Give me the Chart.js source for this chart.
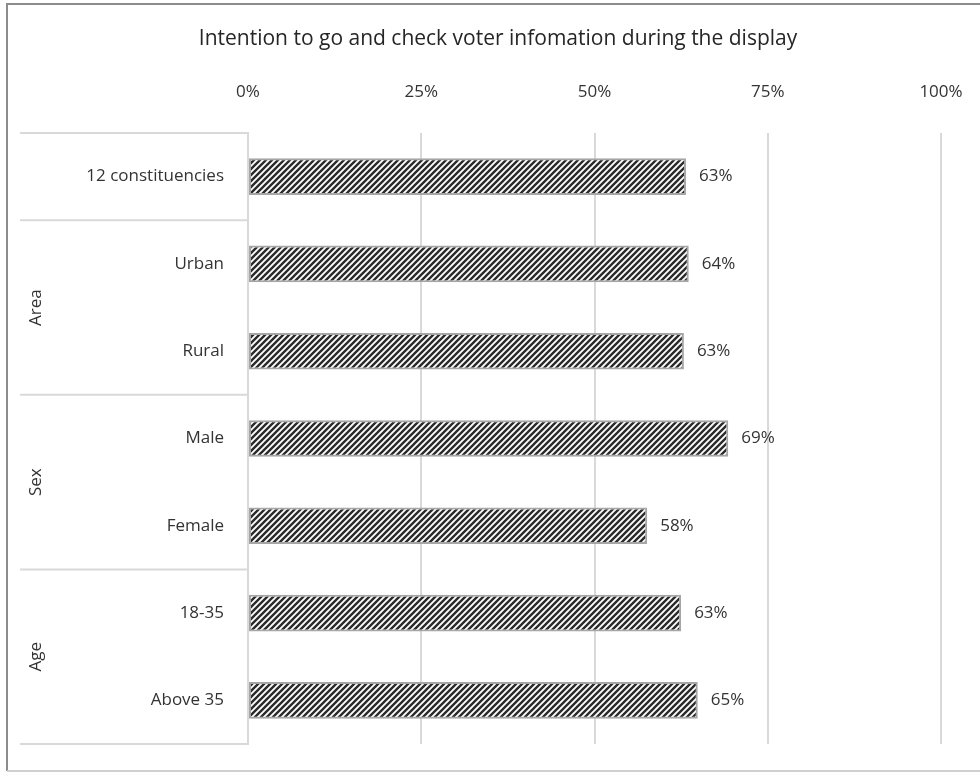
<!DOCTYPE html>
<html>
<head>
<meta charset="utf-8">
<script src="https://cdn.jsdelivr.net/npm/chart.js@4"></script>
<style>
  html, body { margin: 0; padding: 0; background: #fff; }
  #wrap { position: relative; width: 980px; height: 772px; }
</style>
</head>
<body>
<div id="wrap"><canvas id="MiGrafica" width="980" height="772"></canvas></div>
<script>
// data
const categorias = ['12 constituencies', 'Urban', 'Rural', 'Male', 'Female', '18-35', 'Above 35'];
const valores = [63.2, 63.6, 62.9, 69.3, 57.6, 62.5, 64.9];
const grupos = ['', 'Area', 'Area', 'Sex', 'Sex', 'Age', 'Age'];
const ticksX = [0, 25, 50, 75, 100];
const titulo = 'Intention to go and check voter infomation during the display';

const fuente = '"Open Sans", "Noto Sans", sans-serif';
const gris = '#d9d9d9';
const texto = '#333333';

// hatched fill like the original
const rayado = (() => {
    const c = document.createElement('canvas');
    c.width = 6; c.height = 6;
    const g = c.getContext('2d');
    g.fillStyle = '#ffffff';
    g.fillRect(0, 0, 6, 6);
    g.strokeStyle = '#2b2b2b';
    g.lineWidth = 2.4;
    g.beginPath();
    g.moveTo(-1, 7); g.lineTo(7, -1);
    g.moveTo(-4, 4); g.lineTo(4, -4);
    g.moveTo(2, 10); g.lineTo(10, 2);
    g.stroke();
    return g.createPattern(c, 'repeat');
})();

// frame, title, group boxes and value labels
const extras = {
    id: 'extras',
    beforeDraw(chart) {
        const ctx = chart.ctx;
        ctx.save();
        ctx.strokeStyle = '#8c8c8c';
        ctx.lineWidth = 2;
        ctx.beginPath();
        ctx.moveTo(980, 4); ctx.lineTo(7, 4); ctx.lineTo(7, 771);
        ctx.stroke();
        ctx.strokeStyle = '#d0d0d0';
        ctx.beginPath();
        ctx.moveTo(7, 771); ctx.lineTo(980, 771);
        ctx.stroke();
        ctx.restore();
    },
    afterDraw(chart) {
        const ctx = chart.ctx;
        const y = chart.scales.y;
        const area = chart.chartArea;
        ctx.save();
        ctx.fillStyle = '#262626';
        ctx.font = '21px ' + fuente;
        ctx.textAlign = 'center';
        ctx.textBaseline = 'middle';
        ctx.fillText(titulo, 498, 39);

        // separators between groups
        const bordes = [area.top];
        for (let i = 1; i < grupos.length; i++) {
            if (grupos[i] !== grupos[i - 1]) {
                bordes.push((y.getPixelForValue(i - 1) + y.getPixelForValue(i)) / 2);
            }
        }
        bordes.push(area.bottom);
        ctx.strokeStyle = gris;
        ctx.lineWidth = 2;
        bordes.forEach(b => {
            ctx.beginPath();
            ctx.moveTo(20, b); ctx.lineTo(area.left, b);
            ctx.stroke();
        });

        // rotated group names
        ctx.font = '17px ' + fuente;
        ctx.fillStyle = texto;
        const vistos = [...new Set(grupos.filter(g => g))];
        vistos.forEach(nombre => {
            const idx = grupos.map((g, i) => g === nombre ? i : -1).filter(i => i >= 0);
            const mid = (y.getPixelForValue(idx[0]) + y.getPixelForValue(idx[idx.length - 1])) / 2;
            ctx.save();
            ctx.translate(36, mid);
            ctx.rotate(-Math.PI / 2);
            ctx.fillText(nombre, 0, 0);
            ctx.restore();
        });

        // value labels
        ctx.textAlign = 'left';
        ctx.font = '17px ' + fuente;
        chart.getDatasetMeta(0).data.forEach((bar, i) => {
            ctx.fillText(Math.round(valores[i]) + '%', bar.x + 13, bar.y);
        });
        ctx.restore();
    }
};

const ctx = document.getElementById('MiGrafica').getContext('2d');
const myChart = new Chart(ctx, {
    type: 'bar',
    data: {
        labels: categorias,
        datasets: [{
            data: valores,
            backgroundColor: rayado,
            borderColor: '#a6a6a6',
            borderWidth: 2,
            borderSkipped: false,
            barPercentage: 0.42,
            categoryPercentage: 1
        }]
    },
    options: {
        indexAxis: 'y',
        responsive: false,
        animation: false,
        layout: { padding: { top: 0, right: 39, bottom: 28, left: 0 } },
        plugins: {
            legend: { display: false },
            tooltip: { enabled: false }
        },
        scales: {
            x: {
                position: 'top',
                min: 0,
                max: 100,
                afterBuildTicks: (s) => { s.ticks = ticksX.map(v => ({ value: v })); },
                afterFit: (s) => { s.height = 133; s.paddingLeft = 0; s.paddingRight = 0; },
                ticks: {
                    callback: (v) => v + '%',
                    color: texto,
                    font: { family: fuente, size: 17 },
                    padding: 31,
                    maxRotation: 0
                },
                grid: {
                    color: (c) => c.tick && c.tick.value === 0 ? 'rgba(0,0,0,0)' : gris,
                    lineWidth: 2,
                    drawTicks: false
                },
                border: { display: false }
            },
            y: {
                afterFit: (s) => { s.width = 248; s.paddingTop = 0; s.paddingBottom = 0; },
                ticks: {
                    color: texto,
                    font: { family: fuente, size: 17 },
                    padding: 24
                },
                grid: { display: false, drawTicks: false },
                border: { display: true, color: gris, width: 2 }
            }
        }
    },
    plugins: [extras]
});
</script>
</body>
</html>
